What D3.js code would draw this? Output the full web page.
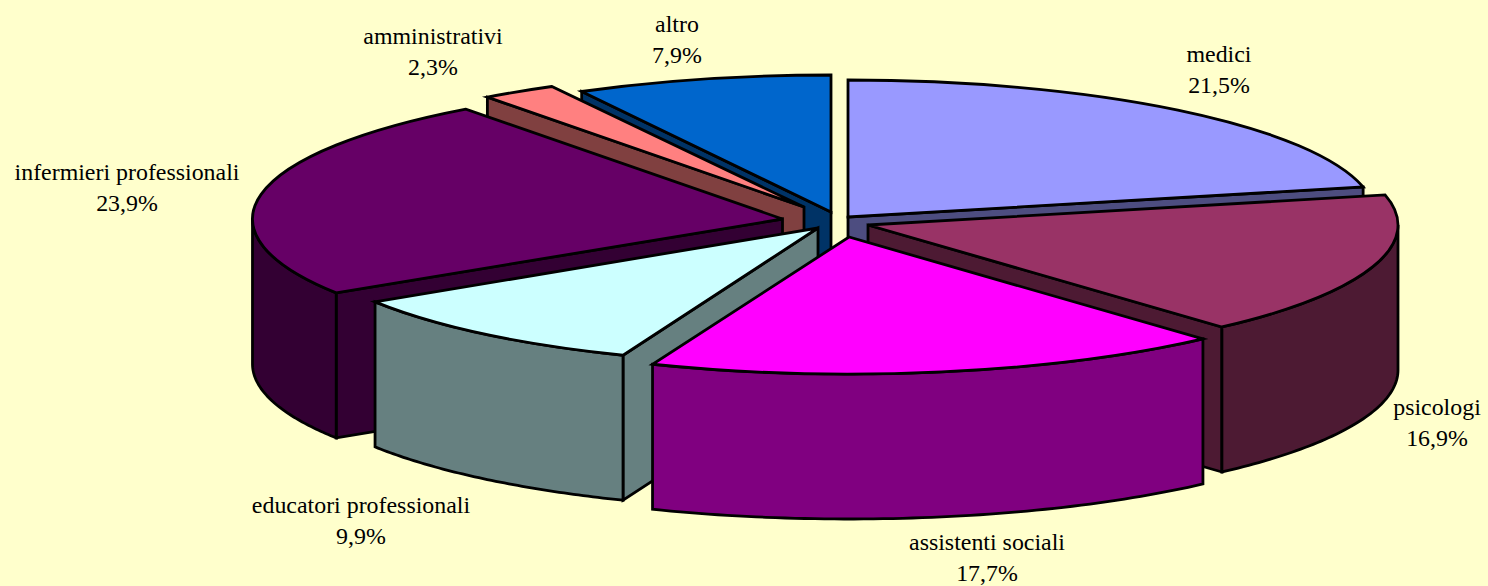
<!DOCTYPE html>
<html><head><meta charset="utf-8">
<script src="https://cdn.jsdelivr.net/npm/d3@7"></script>
<style>html,body{margin:0;padding:0;background:#FFFFCC;overflow:hidden}svg{display:block}text{font-family:"Liberation Serif",serif;font-size:23.9px;fill:#000}</style>
</head><body><svg id="c" width="1488" height="586"></svg>
<script>
const categories=["medici","psicologi","assistenti sociali","educatori professionali","infermieri professionali","amministrativi","altro"];
const values=[21.5,16.9,17.7,9.9,23.9,2.3,7.9];
const valueLabels=["21,5%","16,9%","17,7%","9,9%","23,9%","2,3%","7,9%"];
const topColors=["#9999FF","#993366","#FF00FF","#CCFFFF","#660066","#FF8080","#0066CC"];
const sideColors=["#4D4D80","#4D1A33","#800080","#668080","#330033","#804040","#003366"];
// layout of the exploded pie: where each slice's apex lands, its horizontal radius, and where its label sits
const apexX=[848,868,849,818,782.5,804,831];
const apexY=[217,225,237,228,219,207,212];
const radiusX=[528,530,530,526,530,530,524];
const labelX=[1219,1437,987,361,127,433,677];
const labelY=[62,415,550,513,180,44,32];
const paintOrder=[6,0,5,4,1,3,2];
const RX=530,RY=137,DEPTH=145;

const svg=d3.select("#c");
const pie=d3.pie().sort(null).value(d=>d);
const arcs=pie(values);
const topArc=d3.arc().innerRadius(0).outerRadius(RX);
const line=d3.line();
const px=(i,a)=>apexX[i]+radiusX[i]*Math.sin(a);
const py=(i,a)=>apexY[i]-RY*Math.cos(a);
const PI=Math.PI;
const sty=(s,fill)=>s.attr("fill",fill).attr("stroke","#000").attr("stroke-width",2.8).attr("stroke-linejoin","miter");

function face(g,i,a){
  const P=[[apexX[i],apexY[i]],[px(i,a),py(i,a)],[px(i,a),py(i,a)+DEPTH],[apexX[i],apexY[i]+DEPTH]];
  sty(g.append("path").attr("d",line(P)+"Z"),sideColors[i]);
}
paintOrder.forEach(i=>{
  const d=arcs[i],g=svg.append("g");
  const a0=d.startAngle,a1=d.endAngle;
  if(Math.sin(a0)<0) face(g,i,a0);
  if(Math.sin(a1)>0) face(g,i,a1);
  const w0=Math.max(a0,PI/2),w1=Math.min(a1,3*PI/2);
  if(w1>w0){
    const angs=d3.range(0,61).map(k=>w0+(w1-w0)*k/60);
    const up=angs.map(a=>[px(i,a),py(i,a)]);
    const dn=angs.slice().reverse().map(a=>[px(i,a),py(i,a)+DEPTH]);
    sty(g.append("path").attr("d",line(up.concat(dn))+"Z"),sideColors[i]);
  }
  sty(g.append("path").attr("d",topArc(d))
     .attr("transform",`translate(${apexX[i]},${apexY[i]}) scale(${radiusX[i]/RX},${RY/RX})`)
     .attr("vector-effect","non-scaling-stroke"),topColors[i]);
});
categories.forEach((c,i)=>{
  const t=svg.append("text").attr("text-anchor","middle").attr("x",labelX[i]).attr("y",labelY[i]);
  t.append("tspan").attr("x",labelX[i]).text(c);
  t.append("tspan").attr("x",labelX[i]).attr("dy",31).text(valueLabels[i]);
});
</script></body></html>
